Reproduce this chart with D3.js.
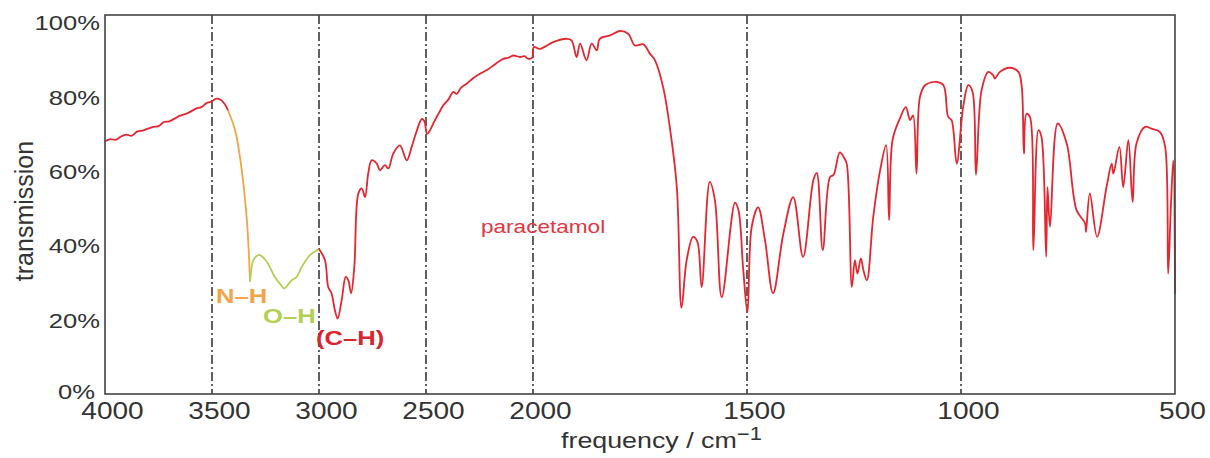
<!DOCTYPE html>
<html>
<head>
<meta charset="utf-8">
<script src="https://cdn.jsdelivr.net/npm/d3@7"></script>
<style>
  html, body { margin: 0; padding: 0; background: #ffffff; }
  svg { display: block; font-family: "Liberation Sans", Arial, sans-serif; }
</style>
</head>
<body>
<svg id="chart" width="1210" height="458"></svg>
<script>
// ---- data ----
const wavenumbers = [
  4000, 3975, 3950, 3925, 3900, 3875, 3850, 3825, 3800, 3775, 3750, 3725, 3700, 3675, 3650, 3625,
  3600, 3575, 3550, 3525, 3500, 3480, 3460, 3440, 3425,
  3392, 3369, 3350, 3336, 3327, 3322,
  3307, 3290, 3276, 3244, 3206, 3180, 3162, 3140, 3128, 3104, 3081, 3042, 3000,
  2972, 2957, 2941, 2926, 2913, 2894, 2875, 2863, 2850, 2835, 2816, 2800, 2785, 2770, 2754, 2730,
  2715, 2692, 2676, 2653, 2622, 2590, 2567, 2545, 2520, 2508, 2495, 2481, 2460, 2442, 2419, 2395,
  2372, 2357, 2335, 2310, 2280, 2248, 2215, 2185, 2160, 2139, 2115, 2092, 2061, 2040, 2022, 2004,
  1998, 1984, 1953, 1921, 1910, 1898, 1890, 1875, 1863, 1851, 1844, 1820, 1797, 1777, 1762, 1742,
  1727, 1715, 1696, 1680, 1664, 1653, 1641, 1626, 1616, 1606, 1587, 1575, 1559, 1528, 1520, 1509,
  1499, 1489, 1474, 1458, 1439, 1415, 1392, 1369, 1345, 1337, 1323, 1306, 1298, 1283, 1273, 1267,
  1255, 1248, 1242, 1234, 1228, 1220, 1205, 1189, 1175, 1168, 1160, 1143, 1129, 1119, 1112, 1104,
  1096, 1084, 1057, 1041, 1030, 1022, 1010, 995, 983, 973, 965, 952, 936, 925, 921, 909,
  886, 866, 858, 853, 847, 839, 831, 819, 812, 801, 798, 792, 774, 753, 730, 710,
  708, 699, 682, 660, 648, 644, 630, 621, 609, 599, 590, 570, 555, 535, 523, 516,
  510, 504, 500
];
const transmission = [
  68.0, 68.6, 68.4, 69.3, 69.8, 69.5, 70.6, 70.9, 71.4, 71.9, 72.1, 73.2, 73.4, 74.1, 74.9, 75.3,
  76.0, 76.8, 77.2, 78.3, 78.8, 79.5, 79.2, 78.0, 76.3,
  71.0, 63.7, 54.8, 46.0, 36.8, 30.2,
  36.0, 37.2, 37.4, 35.6, 31.5, 29.5, 28.4, 29.8, 30.6, 31.5, 34.2, 37.4, 39.0,
  36.0, 28.8, 27.0, 22.6, 20.3, 25.3, 31.5, 30.6, 27.1, 34.2, 54.0, 55.3, 53.0, 59.3, 62.9, 62.0,
  60.2, 61.6, 60.7, 64.7, 66.9, 62.9, 66.5, 70.5, 74.0, 73.5, 70.0, 71.0, 73.5, 75.4, 77.7, 79.3,
  81.3, 80.8, 82.5, 83.5, 85.0, 86.2, 87.2, 88.4, 89.5, 90.2, 90.5, 91.1, 90.7, 90.9, 90.2, 90.5,
  93.4, 92.9, 94.7, 95.6, 95.2, 90.7, 94.3, 89.8, 94.3, 92.5, 95.6, 96.5, 97.7, 96.9, 93.8, 94.1,
  91.6, 89.8, 82.6, 71.5, 55.7, 23.2, 36.0, 42.3, 41.0, 28.8, 57.1, 52.2, 26.0, 51.5, 49.5, 33.8,
  22.0, 45.0, 50.2, 41.4, 27.1, 43.2, 53.0, 36.9, 57.5, 59.5, 38.7, 58.4, 58.9, 65.0, 63.5, 62.0,
  28.8, 36.0, 32.4, 36.5, 33.3, 30.6, 47.7, 60.2, 67.0, 46.8, 68.3, 74.1, 77.2, 73.7, 75.0, 59.3,
  79.9, 83.1, 84.0, 83.1, 74.6, 73.7, 62.0, 77.2, 83.1, 81.3, 59.0, 81.7, 86.7, 85.8, 84.9, 86.7,
  87.8, 86.7, 82.6, 64.7, 75.4, 74.6, 38.7, 71.0, 69.2, 36.9, 55.7, 45.0, 72.8, 67.4, 49.5, 45.9,
  43.6, 54.0, 42.3, 55.7, 62.0, 59.3, 66.5, 55.7, 68.3, 51.7, 67.4, 71.9, 71.4, 70.5, 66.5, 32.4,
  49.5, 62.9, 27.0
];
// highlighted absorption bands: [high, low] wavenumber ranges
const bandNames  = ["N–H", "O–H"];
const bandHigh   = [3425, 3322];
const bandLow    = [3322, 3000];
const bandColors = ["#f2a545", "#b3d055"];
const baseColor  = "#e3262f";

const xTicks = [4000, 3500, 3000, 2500, 2000, 1500, 1000, 500];
const xGridTicks = [3500, 3000, 2500, 2000, 1500, 1000];
const yTicks = [0, 20, 40, 60, 80, 100];

// ---- layout ----
const svg = d3.select("#chart");
const L = 105, R = 1175, T = 15, B = 394;
const SX = 1.22;   // horizontal glyph stretch seen in the reference

const x = d3.scaleLinear().domain([4000, 2000, 500]).range([L, 533, R]);
const y = d3.scaleLinear().domain([0, 102]).range([B, T]);

// dash-dot grid lines
svg.append("g").selectAll("line").data(xGridTicks).join("line")
  .attr("x1", d => x(d)).attr("x2", d => x(d))
  .attr("y1", T).attr("y2", B)
  .attr("stroke", "#3a3a3a").attr("stroke-width", 1.6)
  .attr("stroke-dasharray", "9,3,2,3");

// spectrum split into coloured runs
const pts = wavenumbers.map((w, i) => ({ w, t: transmission[i] }));
function colorFor(mid) {
  for (let k = 0; k < bandNames.length; k++) {
    if (mid <= bandHigh[k] && mid >= bandLow[k]) return bandColors[k];
  }
  return baseColor;
}
const runs = [];
for (let i = 0; i < pts.length - 1; i++) {
  const c = colorFor((pts[i].w + pts[i + 1].w) / 2);
  const last = runs[runs.length - 1];
  if (last && last.color === c) last.points.push(pts[i + 1]);
  else runs.push({ color: c, points: [pts[i], pts[i + 1]] });
}
const line = d3.line().x(d => x(d.w)).y(d => y(d.t)).curve(d3.curveCatmullRom.alpha(0.5));
svg.append("g").selectAll("path").data(runs).join("path")
  .attr("d", d => line(d.points))
  .attr("fill", "none")
  .attr("stroke", d => d.color)
  .attr("stroke-width", 1.8)
  .attr("stroke-linejoin", "round");

// frame
svg.append("rect").attr("x", L).attr("y", T).attr("width", R - L).attr("height", B - T)
  .attr("fill", "none").attr("stroke", "#444").attr("stroke-width", 1.6);

// x axis
const xAxis = svg.append("g").attr("transform", `translate(0,${B})`)
  .call(d3.axisBottom(x).tickValues(xTicks).tickSize(0).tickFormat(d3.format("d")));
xAxis.select(".domain").remove();
xAxis.selectAll("text")
  .attr("y", 25).attr("dy", 0)
  .attr("transform", "translate(7,0) scale(" + SX + ",1)")
  .attr("font-size", 23).attr("fill", "#333").attr("font-family", "Liberation Sans, Arial, sans-serif");

// y axis
const yAxis = svg.append("g").attr("transform", `translate(${L},0)`)
  .call(d3.axisLeft(y).tickValues(yTicks).tickSize(0).tickFormat(d => d + "%"));
yAxis.select(".domain").remove();
yAxis.selectAll("text")
  .attr("x", 0).attr("dy", 0).attr("y", 7.5)
  .attr("transform", d => d === 0 ? "translate(-10,-3) scale(" + SX + ",1)" : "translate(-5,0) scale(" + SX + ",1)")
  .attr("font-size", 21).attr("fill", "#333").attr("font-family", "Liberation Sans, Arial, sans-serif");

// axis titles
svg.append("text")
  .attr("transform", "translate(33,211) rotate(-90)")
  .attr("text-anchor", "middle").attr("font-size", 25).attr("fill", "#333")
  .text("transmission");

const xt = svg.append("text")
  .attr("transform", "translate(561,448) scale(" + SX + ",1)")
  .attr("font-size", 22).attr("fill", "#333");
xt.append("tspan").text("frequency / cm");
xt.append("tspan").attr("dy", -8).attr("font-size", 18).text("−1");

// annotations
const ann = [
  { text: "N–H", x: 216, y: 303, color: "#f2a545", bold: true, size: 21 },
  { text: "O–H", x: 263, y: 323, color: "#b3d055", bold: true, size: 21 },
  { text: "(C–H)", x: 316, y: 345, color: "#d8262e", bold: true, size: 21 },
  { text: "paracetamol", x: 481, y: 233, color: "#e3363f", bold: false, size: 18.5 }
];
svg.append("g").selectAll("text").data(ann).join("text")
  .attr("transform", d => `translate(${d.x},${d.y}) scale(${SX},1)`)
  .attr("font-size", d => d.size)
  .attr("font-weight", d => d.bold ? "bold" : "normal")
  .attr("fill", d => d.color)
  .text(d => d.text);
</script>
</body>
</html>
